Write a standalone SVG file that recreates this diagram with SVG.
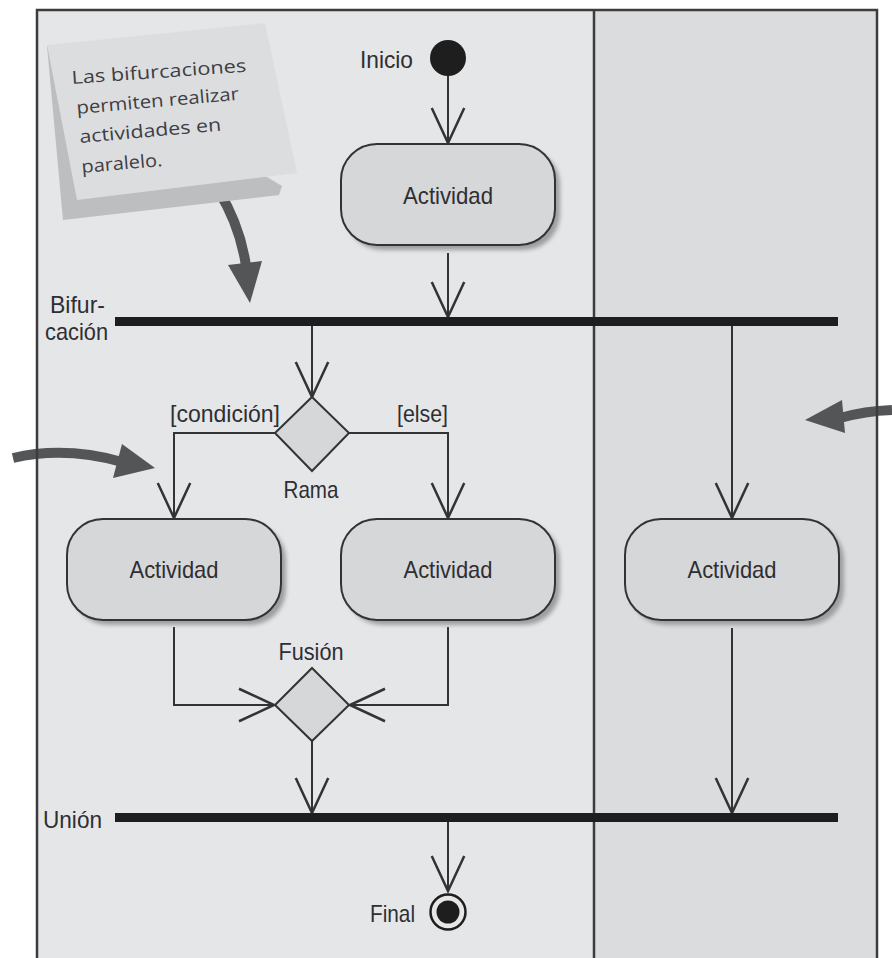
<svg xmlns="http://www.w3.org/2000/svg" width="892" height="958" viewBox="0 0 892 958">
  <style>
    .lbl { font-family: "Liberation Sans Narrow", "Liberation Sans", Arial, sans-serif; font-size: 24px; fill: #2e2e34; }
    .mid { text-anchor: middle; }
    .end { text-anchor: end; }
    .edge { fill: none; stroke: #333; stroke-width: 2; }
    .act { fill: #d6d7d9; stroke: #333; stroke-width: 2; }
    .shade { fill: #9d9ea0; filter: url(#soft); }
    .bar { stroke: #1e1e1e; stroke-width: 9; }
    .dia { fill: #d6d7d9; stroke: #333; stroke-width: 2; }
    .note { font-family: "Open Sans", "DejaVu Sans", sans-serif; font-size: 18px; fill: #3e3e44; }
    .callout { fill: none; stroke: #545557; stroke-width: 10; stroke-linecap: butt; }
    .callhead { fill: #545557; }
  </style>
  <defs>
    <filter id="soft" x="-10%" y="-10%" width="120%" height="120%">
      <feGaussianBlur stdDeviation="2"/>
    </filter>
    <marker id="open" markerUnits="userSpaceOnUse" markerWidth="40" markerHeight="40" viewBox="-30 -15 32 30" refX="0" refY="0" orient="auto">
      <path d="M -28 -13 L 0 0 L -28 13" fill="none" stroke="#333" stroke-width="2"/>
    </marker>
  </defs>

  <!-- page -->
  <rect x="0" y="0" width="892" height="958" fill="#ffffff"/>

  <!-- swimlanes -->
  <g id="lanes">
    <rect x="37" y="10" width="557" height="960" fill="#e5e6e8"/>
    <rect x="594" y="10" width="283" height="960" fill="#dbdcde"/>
  </g>

  <!-- callout arrows -->
  <g id="callouts">
    <path class="callout" d="M 218 190 Q 240 225 246 266"/>
    <polygon class="callhead" points="228,265 262,261 250,303"/>
    <path class="callout" d="M 13 458 Q 65 446 122 462" stroke-width="11"/>
    <polygon class="callhead" points="122,444 155,468 113,478"/>
    <path class="callout" d="M 892 410 Q 865 411 840 418" stroke-width="11"/>
    <polygon class="callhead" points="842,400 805,420 845,433"/>
  </g>

  <!-- lane borders -->
  <g id="frame" fill="none" stroke="#3c3c3c" stroke-width="2.5">
    <path d="M 37 970 L 37 10 L 877 10 L 877 970"/>
    <line x1="594" y1="10" x2="594" y2="970"/>
  </g>

  <!-- note -->
  <g id="note">
    <polygon points="47,46 63,220 279,195 282,186" fill="#bdbec0"/>
    <polygon points="47,45 265,23 297,173 77,200" fill="#dcdddf"/>
    <text class="note" x="72" y="84" transform="rotate(-4 72 84)" textLength="175" lengthAdjust="spacingAndGlyphs">Las bifurcaciones</text>
    <text class="note" x="77" y="114" transform="rotate(-5 77 114)" textLength="163" lengthAdjust="spacingAndGlyphs">permiten realizar</text>
    <text class="note" x="80" y="143" transform="rotate(-5 80 143)" textLength="142" lengthAdjust="spacingAndGlyphs">actividades en</text>
    <text class="note" x="82" y="173" transform="rotate(-5 82 173)" textLength="81" lengthAdjust="spacingAndGlyphs">paralelo.</text>
  </g>

  <!-- connectors -->
  <g id="connectors">
    <path class="edge" d="M 448 76 L 448 143" marker-end="url(#open)"/>
    <path class="edge" d="M 448 253 L 448 317" marker-end="url(#open)"/>
    <path class="edge" d="M 312 326 L 312 397" marker-end="url(#open)"/>
    <path class="edge" d="M 732 326 L 732 518" marker-end="url(#open)"/>
    <path class="edge" d="M 275 433 L 174 433 L 174 518" marker-end="url(#open)"/>
    <path class="edge" d="M 349 433 L 448 433 L 448 518" marker-end="url(#open)"/>
    <path class="edge" d="M 174 627 L 174 705 L 274 705" marker-end="url(#open)"/>
    <path class="edge" d="M 448 627 L 448 705 L 350 705" marker-end="url(#open)"/>
    <path class="edge" d="M 312 741 L 312 813" marker-end="url(#open)"/>
    <path class="edge" d="M 732 628 L 732 813" marker-end="url(#open)"/>
    <path class="edge" d="M 448 822 L 448 891" marker-end="url(#open)"/>
  </g>

  <!-- initial node -->
  <g id="inicio">
    <circle cx="448" cy="58" r="18" fill="#1e1e1e"/>
    <text class="lbl end" x="413" y="68" textLength="53" lengthAdjust="spacingAndGlyphs">Inicio</text>
  </g>

  <!-- activity (top) -->
  <g id="actividad-1">
    <rect class="shade" x="346" y="149" width="214" height="101" rx="36"/>
    <rect class="act" x="341" y="144" width="214" height="101" rx="36"/>
    <text class="lbl mid" x="448" y="204" textLength="90" lengthAdjust="spacingAndGlyphs">Actividad</text>
  </g>

  <!-- fork bar -->
  <g id="bifurcacion">
    <line class="bar" x1="115" y1="321.5" x2="838" y2="321.5"/>
    <text class="lbl" x="50" y="313" textLength="55" lengthAdjust="spacingAndGlyphs">Bifur-</text>
    <text class="lbl" x="45" y="340" textLength="63" lengthAdjust="spacingAndGlyphs">cación</text>
  </g>

  <!-- decision -->
  <g id="rama">
    <polygon class="dia" points="312,397 349,433 312,471 275,433"/>
    <text class="lbl mid" x="311" y="498" textLength="55" lengthAdjust="spacingAndGlyphs">Rama</text>
    <text class="lbl" x="170" y="422" textLength="110" lengthAdjust="spacingAndGlyphs">[condición]</text>
    <text class="lbl" x="397" y="422" textLength="51" lengthAdjust="spacingAndGlyphs">[else]</text>
  </g>

  <!-- activities row -->
  <g id="actividad-2">
    <rect class="shade" x="72" y="524" width="214" height="101" rx="36"/>
    <rect class="act" x="67" y="519" width="214" height="101" rx="36"/>
    <text class="lbl mid" x="174" y="578" textLength="89" lengthAdjust="spacingAndGlyphs">Actividad</text>
  </g>
  <g id="actividad-3">
    <rect class="shade" x="346" y="524" width="214" height="101" rx="36"/>
    <rect class="act" x="341" y="519" width="214" height="101" rx="36"/>
    <text class="lbl mid" x="448" y="578" textLength="89" lengthAdjust="spacingAndGlyphs">Actividad</text>
  </g>
  <g id="actividad-4">
    <rect class="shade" x="630" y="524" width="214" height="101" rx="36"/>
    <rect class="act" x="625" y="519" width="214" height="101" rx="36"/>
    <text class="lbl mid" x="732" y="578" textLength="89" lengthAdjust="spacingAndGlyphs">Actividad</text>
  </g>

  <!-- merge -->
  <g id="fusion">
    <polygon class="dia" points="312,668 349,705 312,741 275,705"/>
    <text class="lbl mid" x="311" y="660" textLength="65" lengthAdjust="spacingAndGlyphs">Fusión</text>
  </g>

  <!-- join bar -->
  <g id="union">
    <line class="bar" x1="115" y1="817.5" x2="838" y2="817.5"/>
    <text class="lbl" x="43" y="828" textLength="59" lengthAdjust="spacingAndGlyphs">Unión</text>
  </g>

  <!-- final node -->
  <g id="final">
    <circle cx="448" cy="912" r="17.5" fill="none" stroke="#1e1e1e" stroke-width="2.5"/>
    <circle cx="448" cy="912" r="11.5" fill="#1e1e1e"/>
    <text class="lbl end" x="415" y="922" textLength="45" lengthAdjust="spacingAndGlyphs">Final</text>
  </g>
</svg>
